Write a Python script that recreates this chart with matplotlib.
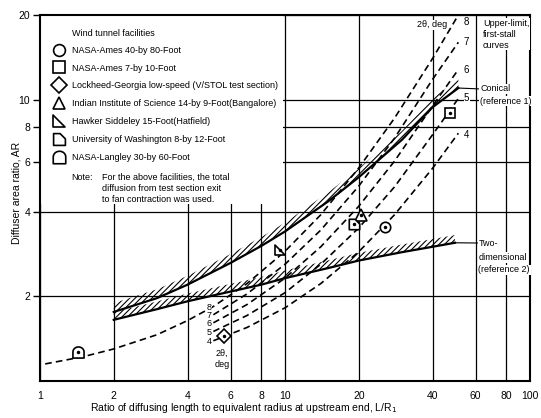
import matplotlib
matplotlib.use("Agg")
import matplotlib.pyplot as plt
import numpy as np
from matplotlib.lines import Line2D
from matplotlib.patches import Rectangle
from matplotlib.path import Path
from matplotlib.ticker import NullLocator

plt.rcParams['font.family'] = ['Liberation Sans', 'DejaVu Sans']
plt.rcParams['hatch.linewidth'] = 0.8

# upper-limit, first-stall curves
conical_lr = [2, 3, 4, 6, 8, 10, 15, 20, 30, 40, 51]
conical_ar = [1.76, 1.97, 2.2, 2.63, 3.02, 3.4, 4.35, 5.3, 7.2, 9.4, 11.0]
twod_lr = [2, 3, 4, 6, 8, 10, 15, 20, 30, 40, 49.4]
twod_ar = [1.65, 1.8, 1.92, 2.08, 2.2, 2.32, 2.52, 2.68, 2.87, 3.0, 3.1]

# constant divergence angle lines (2 theta, deg)
angles = [8, 7, 6, 5, 4]
lr_8 = [1.05, 1.5, 2, 3, 4, 5.1, 7, 10, 14, 20, 28, 40, 51]
ar_8 = [1.15, 1.22, 1.30, 1.46, 1.64, 1.84, 2.22, 2.89, 3.9, 5.72, 8.6, 14.0, 20.0]
lr_dash = [5.1, 7, 10, 14, 20, 28, 40, 51]
ar_7 = [1.72, 2.04, 2.6, 3.44, 4.93, 7.3, 11.8, 16.0]
ar_6 = [1.61, 1.87, 2.32, 3.0, 4.18, 6.05, 9.5, 12.8]
ar_5 = [1.5, 1.71, 2.06, 2.6, 3.5, 4.9, 7.5, 10.1]
ar_4 = [1.39, 1.55, 1.82, 2.22, 2.88, 3.9, 5.7, 7.6]

# wind tunnel facilities
facilities = ["NASA-Ames 40-by 80-Foot",
              "NASA-Ames 7-by 10-Foot",
              "Lockheed-Georgia low-speed (V/STOL test section)",
              "Indian Institute of Science 14-by 9-Foot(Bangalore)",
              "Hawker Siddeley 15-Foot(Hatfield)",
              "University of Washington 8-by 12-Foot",
              "NASA-Langley 30-by 60-Foot"]
fac_lr = [25.6, 47.2, 5.65, 20.5, 9.53, 19.1, 1.43]
fac_ar = [3.53, 8.94, 1.44, 3.88, 2.93, 3.61, 1.27]

x_ticks = [1, 2, 4, 6, 8, 10, 20, 40, 60, 80, 100]
y_ticks = [2, 4, 6, 8, 10, 20]

# marker shapes
hawker = Path([(-1, 1), (-1, -1), (1, -1), (-1, 1)], closed=True)
washington = Path([(-1, -1), (1, -1), (1, 0.1), (0.1, 1), (-1, 1), (-1, -1)], closed=True)
t = np.linspace(np.pi, 0, 15)
langley = Path(list(zip(np.cos(t), 0.1 + 0.9 * np.sin(t))) + [(1, -1), (-1, -1), (-1, 0.1)], closed=True)
fac_markers = ['o', 's', 'D', '^', hawker, washington, langley]
fac_sizes = [7.5, 7, 7.5, 8, 7.5, 7.5, 8]

fig = plt.figure(figsize=(5.41, 4.18), dpi=100)
ax = fig.add_axes([40 / 541, 37 / 418, 490 / 541, 366 / 418])
ax.set_xscale('log')
ax.set_yscale('log')
ax.set_xlim(1, 100)
ax.set_ylim(1, 20)
ax.set_xticks(x_ticks)
ax.set_xticklabels([str(v) for v in x_ticks])
ax.set_yticks(y_ticks)
ax.set_yticklabels([str(v) for v in y_ticks])
ax.xaxis.set_minor_locator(NullLocator())
ax.yaxis.set_minor_locator(NullLocator())
ax.tick_params(axis='x', length=0, pad=7, labelsize=7.5)
ax.tick_params(axis='y', length=5, width=1, pad=2, labelsize=7.5)
ax.grid(True, color='k', lw=0.9)
ax.set_axisbelow(True)
for s in ax.spines.values():
    s.set_linewidth(1.5)

# blank area behind the key
ax.add_patch(Rectangle((1, 4.25), 8.85, 15.75, facecolor='white', edgecolor='none', zorder=0.8))

# hatched limit curves
ax.fill_between(conical_lr, conical_ar, np.array(conical_ar) * 1.075, facecolor='none',
                edgecolor='k', hatch='//////', lw=0, zorder=2)
ax.plot(conical_lr, conical_ar, color='k', lw=1.6, zorder=3)
ax.fill_between(twod_lr, twod_ar, np.array(twod_ar) * 1.065, facecolor='none',
                edgecolor='k', hatch='//////', lw=0, zorder=2)
ax.plot(twod_lr, twod_ar, color='k', lw=1.6, zorder=3)

dash_lr = [lr_8, lr_dash, lr_dash, lr_dash, lr_dash]
dash_ar = [ar_8, ar_7, ar_6, ar_5, ar_4]
right_dy = [-5, 0, 0, 0, -1]
for ang, lr, ar, dy in zip(angles, dash_lr, dash_ar, right_dy):
    ax.plot(lr, ar, color='k', lw=1.2, linestyle=(0, (4, 2.5)), zorder=3)
    i0 = lr.index(5.1)
    # only the 8 deg label sits on its own line, so only it needs a blank box
    lbox = dict(facecolor='white', edgecolor='none', pad=0) if ang == 8 else None
    ax.annotate(str(ang), xy=(lr[i0], ar[i0]), xytext=(-1, 0), textcoords='offset points',
                ha='right', va='center_baseline', fontsize=6.5, zorder=4, bbox=lbox)
    ax.annotate(str(ang), xy=(lr[-1], ar[-1]), xytext=(4, dy), textcoords='offset points',
                ha='left', va='center', fontsize=7, zorder=4,
                bbox=dict(facecolor='white', edgecolor='none', pad=0.3))

ax.text(0.371, 0.076, '2θ,', transform=ax.transAxes, ha='center', va='center', fontsize=6.5)
ax.text(0.371, 0.044, 'deg', transform=ax.transAxes, ha='center', va='center', fontsize=6.5)
ax.text(0.80, 0.973, '2θ, deg', transform=ax.transAxes, ha='center', va='center', fontsize=6.5,
        bbox=dict(facecolor='white', edgecolor='none', pad=0.5))

# facilities data
for name, x, y, m, ms in zip(facilities, fac_lr, fac_ar, fac_markers, fac_sizes):
    ax.plot(x, y, marker=m, ms=ms, mfc='white', mec='k', mew=1.2, linestyle='none', zorder=5)
    ax.plot(x, y, marker='o', ms=1.5, color='k', linestyle='none', zorder=6)

handles = [Line2D([], [], marker=m, ms=ms + 1, mfc='none', mec='k', mew=1.2, linestyle='none')
           for m, ms in zip(fac_markers, fac_sizes)]
leg = ax.legend(handles, facilities, loc='upper left', bbox_to_anchor=(0.0245, 0.916),
                frameon=False, fontsize=6.5, handlelength=1.6, handletextpad=0.6,
                labelspacing=0.98, borderpad=0, borderaxespad=0)
leg.set_zorder(7)
ax.text(0.0647, 0.950, 'Wind tunnel facilities', transform=ax.transAxes, ha='left', va='center',
        fontsize=6.5)
ax.text(0.0647, 0.568, 'Note:', transform=ax.transAxes, ha='left', va='top', fontsize=6.5)
ax.text(0.126, 0.568, 'For the above facilities, the total\ndiffusion from test section exit\n'
        'to fan contraction was used.', transform=ax.transAxes, ha='left', va='top',
        fontsize=6.5, linespacing=1.3)

# curve names
box = dict(facecolor='white', edgecolor='none', pad=0.5)
ax.text(0.904, 0.989, 'Upper-limit,\nfirst-stall\ncurves', transform=ax.transAxes, ha='left',
        va='top', fontsize=6.5, linespacing=1.25, bbox=box, zorder=4)
ax.annotate('Conical', xy=(conical_lr[-1], conical_ar[-1]), xytext=(0.898, 0.798),
            textcoords='axes fraction', ha='left', va='center', fontsize=6.5, bbox=box, zorder=4,
            arrowprops=dict(arrowstyle='-', lw=0.8, shrinkA=0, shrinkB=0, relpos=(0, 0.5)))
ax.text(0.898, 0.765, '(reference 1)', transform=ax.transAxes, ha='left', va='center',
        fontsize=6.5, bbox=box, zorder=4)
ax.annotate('Two-', xy=(twod_lr[-1], twod_ar[-1]), xytext=(0.8945, 0.377),
            textcoords='axes fraction', ha='left', va='center', fontsize=6.5, bbox=box, zorder=4,
            arrowprops=dict(arrowstyle='-', lw=0.8, shrinkA=0, shrinkB=0, relpos=(0, 0.5)))
ax.text(0.8945, 0.338, 'dimensional', transform=ax.transAxes, ha='left', va='center',
        fontsize=6.5, bbox=box, zorder=4)
ax.text(0.8945, 0.304, '(reference 2)', transform=ax.transAxes, ha='left', va='center',
        fontsize=6.5, bbox=box, zorder=4)

fig.text(17 / 541, 1 - 193 / 418, 'Diffuser area ratio, AR', rotation=90, ha='center',
         va='center', fontsize=7.5)
fig.text(244 / 541, 1 - 408 / 418, 'Ratio of diffusing length to equivalent radius at upstream end, L/R$_1$',
         ha='center', va='center', fontsize=7.5)

fig.savefig('out.png', dpi=100)
